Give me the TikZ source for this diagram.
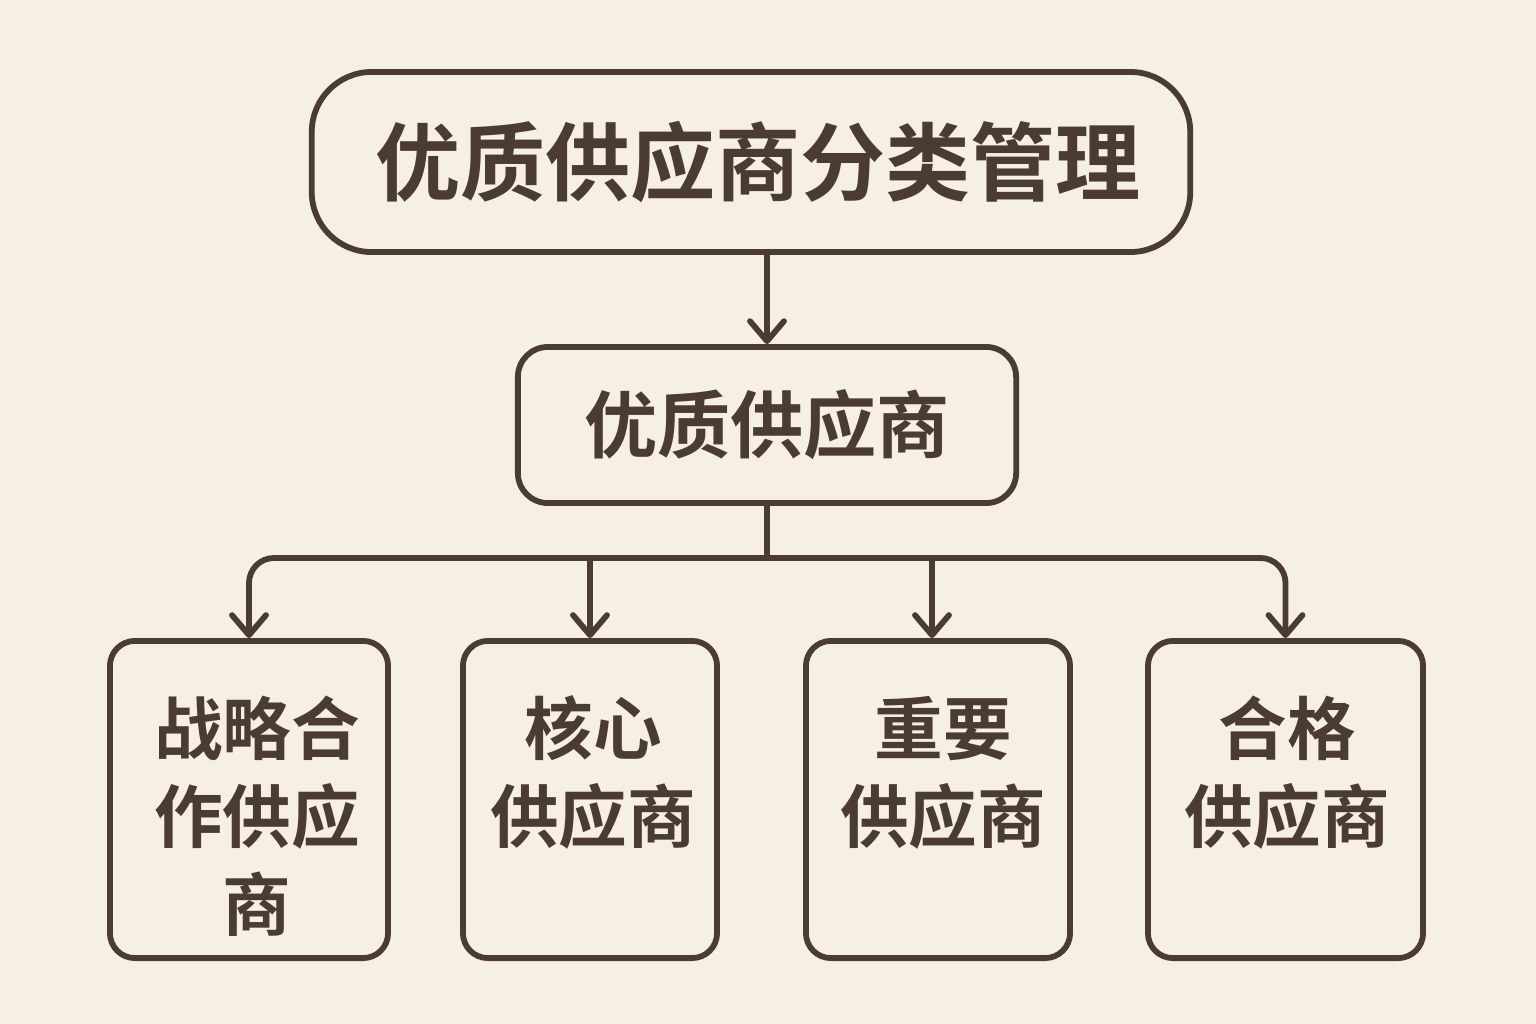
\documentclass[tikz,border=0pt]{standalone}
\usepackage{fontspec}
\usepackage{tikz}
\usetikzlibrary{arrows.meta,positioning,calc}
\newfontfamily\cjk{Noto Sans CJK SC}[BoldFont={* Bold}]
\definecolor{bgcream}{RGB}{245,239,230}
\definecolor{inkbrown}{RGB}{74,59,52}

\begin{document}
\begin{tikzpicture}[x=0.01cm, y=-0.01cm, line width=0.058cm, color=inkbrown,
  >={Straight Barb[length=0.2cm, width=0.34cm, round]},
  topbox/.style={draw, rounded corners=0.6cm, minimum width=8.78cm,
    minimum height=1.8cm, font=\cjk\bfseries\fontsize{24.2}{29}\selectfont},
  midbox/.style={draw, rounded corners=0.3cm, minimum width=4.98cm,
    minimum height=1.56cm, font=\cjk\bfseries\fontsize{20.8}{25}\selectfont},
  leafbox/.style={draw, rounded corners=0.25cm, minimum height=3.17cm},
  leaftext/.style={anchor=north, align=center, inner sep=0pt,
    font=\cjk\bfseries\fontsize{19.5}{25}\selectfont},
  link/.style={->, line cap=round}]
% Background
\fill[bgcream] (0,0) rectangle (1536,1024);
% Title and middle level
\node[topbox] (top) at (751,162) {\hspace*{0.14cm}优质供应商分类管理};
\node[midbox] (mid) at (767,425) {优质供应商};
% Four category boxes
\node[leafbox, minimum width=2.78cm] (b1) at (249,799.5) {};
\node[leafbox, minimum width=2.54cm] (b2) at (590,799.5) {};
\node[leafbox, minimum width=2.64cm] (b3) at (938,799.5) {};
\node[leafbox, minimum width=2.75cm] (b4) at (1285.5,799.5) {};
% Box labels
\node[leaftext] (t1) at (257,693) {战略合\\作供应\\商};
\node[leaftext] (t2) at (593,693) {核心\\供应商};
\node[leaftext] (t3) at (943,693) {重要\\供应商};
\node[leaftext] (t4) at (1287,693) {合格\\供应商};
% Connectors
\coordinate (split) at ([yshift=-0.52cm]mid.south);
\draw[link] (top.south -| mid.north) -- (mid.north);
\draw (mid.south) -- (split);
\draw[link, rounded corners=0.25cm] (split) -| (b1.north);
\draw[link, rounded corners=0.25cm] (split) -| (b4.north);
\draw[link] (split -| b2.north) -- (b2.north);
\draw[link] ([xshift=-0.06cm]split -| b3.north) -- ([xshift=-0.06cm]b3.north);
\end{tikzpicture}
\end{document}
